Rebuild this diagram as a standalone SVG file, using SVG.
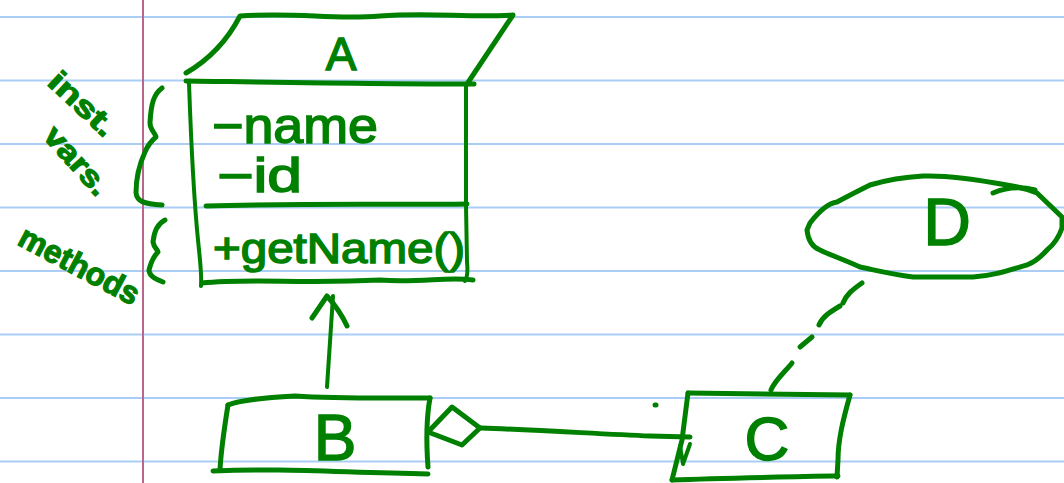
<svg xmlns="http://www.w3.org/2000/svg" width="1064" height="483" viewBox="0 0 1064 483">
  <style>
    .rule { stroke: #a9cdf5; stroke-width: 2; }
    .margin { stroke: #b8678a; stroke-width: 2; }
    .ink { fill: none; stroke: #008000; stroke-width: 5; stroke-linecap: round; stroke-linejoin: round; }
    .ink-thin { fill: none; stroke: #008000; stroke-width: 4; stroke-linecap: round; stroke-linejoin: round; }
    .hand { font-family: "Liberation Sans", "DejaVu Sans", sans-serif; fill: #008000; stroke: #008000; stroke-width: 1.5; }
    .note { font-family: "Liberation Sans", "DejaVu Sans", sans-serif; fill: #008000; stroke: #008000; stroke-width: 1.2; font-weight: bold; }
  </style>

  <rect width="1064" height="483" fill="#ffffff"/>

  <!-- ruled notebook paper -->
  <g id="paper">
    <line class="rule" x1="0" y1="17" x2="1064" y2="17"/>
    <line class="rule" x1="0" y1="80.5" x2="1064" y2="80.5"/>
    <line class="rule" x1="0" y1="144" x2="1064" y2="144"/>
    <line class="rule" x1="0" y1="207.5" x2="1064" y2="207.5"/>
    <line class="rule" x1="0" y1="271" x2="1064" y2="271"/>
    <line class="rule" x1="0" y1="334.5" x2="1064" y2="334.5"/>
    <line class="rule" x1="0" y1="398" x2="1064" y2="398"/>
    <line class="rule" x1="0" y1="461.5" x2="1064" y2="461.5"/>
    <line class="margin" x1="143" y1="0" x2="143" y2="483"/>
  </g>

  <!-- class A with its parallelogram name header -->
  <g id="node-A">
    <path class="ink" d="M186,73 C205,62 225,45 240,16 C300,12 330,20 380,16 C430,12 470,18 513,15 L467,84"/>
    <path class="ink" d="M186,81 C260,82 380,84 474,84"/>
    <path class="ink-thin" d="M189,83 C191,140 194,200 198,240 C200,260 202,275 201,286"/>
    <path class="ink-thin" d="M466,85 L466,205 L467,262 C468,272 467,278 465,281"/>
    <path class="ink" d="M206,206 C300,203 400,205 467,204"/>
    <path class="ink" d="M202,283 C250,278 300,284 380,280 C420,283 450,276 473,280"/>
    <text class="hand" x="341" y="70" font-size="46" text-anchor="middle">A</text>
    <text class="hand" x="212" y="143" font-size="50" textLength="166" lengthAdjust="spacingAndGlyphs">−name</text>
    <text class="hand" x="217" y="192" font-size="48" textLength="85" lengthAdjust="spacingAndGlyphs">−id</text>
    <text class="hand" x="213" y="263" font-size="42" textLength="252" lengthAdjust="spacingAndGlyphs">+getName()</text>
  </g>

  <!-- class B -->
  <g id="node-B">
    <path class="ink" d="M228,405 C240,400 260,398 295,396 C340,399 390,398 430,398"/>
    <path class="ink" d="M228,405 C224,430 221,450 220,470"/>
    <path class="ink" d="M430,398 C426,420 426,440 428,467"/>
    <path class="ink" d="M213,471 C280,468 330,472 428,474"/>
    <text class="hand" x="335" y="460" font-size="64" text-anchor="middle">B</text>
  </g>

  <!-- class C -->
  <g id="node-C">
    <path class="ink" d="M688,393 L850,395"/>
    <path class="ink" d="M688,393 L682,440 L672,480"/>
    <path class="ink" d="M850,395 C843,420 838,440 838,460 L837,477"/>
    <path class="ink" d="M672,480 C720,478 780,477 838,476"/>
    <path class="ink-thin" d="M680,446 L683,464 L690,444"/>
    <text class="hand" x="767" y="460" font-size="62" text-anchor="middle">C</text>
  </g>

  <!-- use case / object D -->
  <g id="node-D">
    <path class="ink" d="M810,223 C820,210 830,203 837,202 C850,195 860,190 870,185 C890,179 905,177 923,176 C950,175 980,180 1007,185 C1020,187 1030,190 1037,193 L1062,217 L1062,228 C1058,240 1052,246 1047,250 C1040,258 1035,262 1027,265 C1000,273 990,276 973,277 L913,277 C890,274 875,270 860,267 C845,260 830,255 820,250 C812,247 808,240 807,230 Z"/>
    <path class="ink" d="M993,193 C1005,188 1020,186 1035,190"/>
    <text class="hand" x="947" y="245" font-size="66" text-anchor="middle">D</text>
  </g>

  <!-- relationships: generalisation, aggregation, dependency -->
  <g id="connectors">
    <path class="ink-thin" d="M327,387 C329,360 331,325 333,296"/>
    <path class="ink" d="M312,318 L327,296 C335,305 342,315 347,326"/>
    <path class="ink" d="M428,432 L452,407 L480,428 L462,445 Z"/>
    <path class="ink" d="M481,428 C540,430 600,434 650,436 L690,437"/>
    <path class="ink" d="M655,405 L656,405"/>
    <path class="ink" d="M771,390 C775,380 785,372 792,363"/>
    <path class="ink" d="M800,347 L812,337"/>
    <path class="ink" d="M819,325 C822,317 830,312 840,306"/>
    <path class="ink" d="M843,303 C846,295 852,290 862,283"/>
  </g>

  <!-- margin notes with braces -->
  <g id="annotations">
    <path class="ink" d="M162,88 C154,94 151,103 150,123 C150,130 156,134 156,137 C150,142 147,147 145,152 C139,165 136,180 136,193 C137,201 143,204 162,205"/>
    <path class="ink" d="M165,220 C157,224 154,232 153,242 C154,248 158,250 158,252 C154,256 151,262 149,270 C149,275 153,278 163,282"/>
    <text class="note" font-size="30" textLength="80" lengthAdjust="spacingAndGlyphs" transform="translate(46,84) rotate(43)">inst.</text>
    <text class="note" font-size="30" textLength="82" lengthAdjust="spacingAndGlyphs" transform="translate(42,137) rotate(48)">vars.</text>
    <text class="note" font-size="32" textLength="132" lengthAdjust="spacingAndGlyphs" transform="translate(16,244) rotate(28)">methods</text>
  </g>
</svg>
